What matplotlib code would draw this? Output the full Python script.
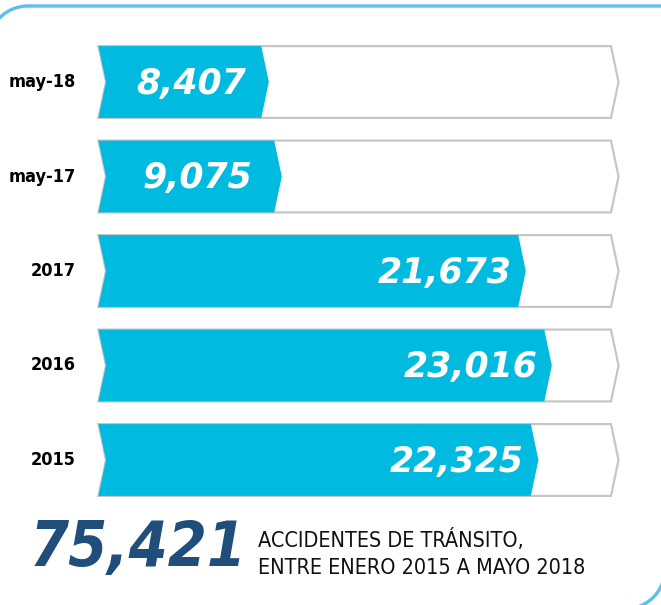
import matplotlib
matplotlib.use("Agg")
import numpy as np
import matplotlib.pyplot as plt
from matplotlib.patches import Polygon

# data
labels = ["may-18", "may-17", "2017", "2016", "2015"]
values = [8407, 9075, 21673, 23016, 22325]
total = "75,421"
caption = ["ACCIDENTES DE TRÁNSITO,", "ENTRE ENERO 2015 A MAYO 2018"]

W, H = 661, 605
px_per_unit = 0.01937     # pixels per accident
x0_px = 106               # pixel position of value 0
row0_px, row_step = 82, 94.5
track_max = 26070         # end of the grey outline track
tip = 390                 # chevron depth in data units
half = 0.38               # bar half height in row units

cyan = "#00bae0"
navy = "#1f4e7a"
grey = "#c6c6c6"
frame_col = "#5cbff0"
narrow = dict(family="DejaVu Sans", fontstretch="condensed")

fig = plt.figure(figsize=(W / 100, H / 100), dpi=100)

# frame pieces: rounded top-left corner + top rule, rounded bottom-right corner
bg = fig.add_axes([0, 0, 1, 1])
bg.set_xlim(0, W)
bg.set_ylim(H, 0)
bg.axis("off")
r = 40
a = np.linspace(np.pi, 1.5 * np.pi, 40)
tl_x = np.concatenate([[28 + r * np.cos(np.pi)], 28 + r * np.cos(a), [W + 20]])
tl_y = np.concatenate([[H + 20], 46 + r * np.sin(a), [6]])
bg.plot(tl_x, tl_y, color=frame_col, lw=2.4, solid_capstyle="butt")
b = np.linspace(0, 0.5 * np.pi, 40)
bg.plot(625 + r * np.cos(b), 569 + r * np.sin(b), color=frame_col, lw=2.4)

ax = fig.add_axes([0, 0, 1, 1])
ax.set_xlim(-x0_px / px_per_unit, (W - x0_px) / px_per_unit)
ax.set_ylim((H - row0_px) / row_step, -row0_px / row_step)
ax.axis("off")


def chevron(v, y):
    t, b = y - half, y + half
    return [(-tip, t), (v - tip, t), (v, y), (v - tip, b), (-tip, b), (0, y)]


for i, (lab, v) in enumerate(zip(labels, values)):
    ax.add_patch(Polygon(chevron(track_max + tip, i), closed=True,
                         facecolor="white", edgecolor=grey, lw=1.6, zorder=1))
    ax.add_patch(Polygon(chevron(v, i), closed=True,
                         facecolor=cyan, edgecolor="none", zorder=2))
    if v < 12000:
        ax.text(v / 2 + 180, i + 0.02, f"{v:,}", ha="center", va="center",
                color="white", fontsize=25, fontweight="bold", style="italic",
                family="DejaVu Sans", zorder=3)
    else:
        ax.text(v - 750, i + 0.02, f"{v:,}", ha="right", va="center",
                color="white", fontsize=25, fontweight="bold", style="italic",
                family="DejaVu Sans", zorder=3)
    ax.text(-1550, i, lab, ha="right", va="center", color="black",
            fontsize=13, fontweight="bold", **narrow)

# bottom summary
fig.text(247 / W, 1 - 549 / H, total, ha="right", va="center", color=navy,
         fontsize=45, fontweight="bold", style="italic", **narrow)
fig.text(258 / W, 1 - 540 / H, caption[0], ha="left", va="center",
         color="#111111", fontsize=15.5, **narrow)
fig.text(258 / W, 1 - 568 / H, caption[1], ha="left", va="center",
         color="#111111", fontsize=15.5, **narrow)

fig.savefig("out.png", dpi=100)
